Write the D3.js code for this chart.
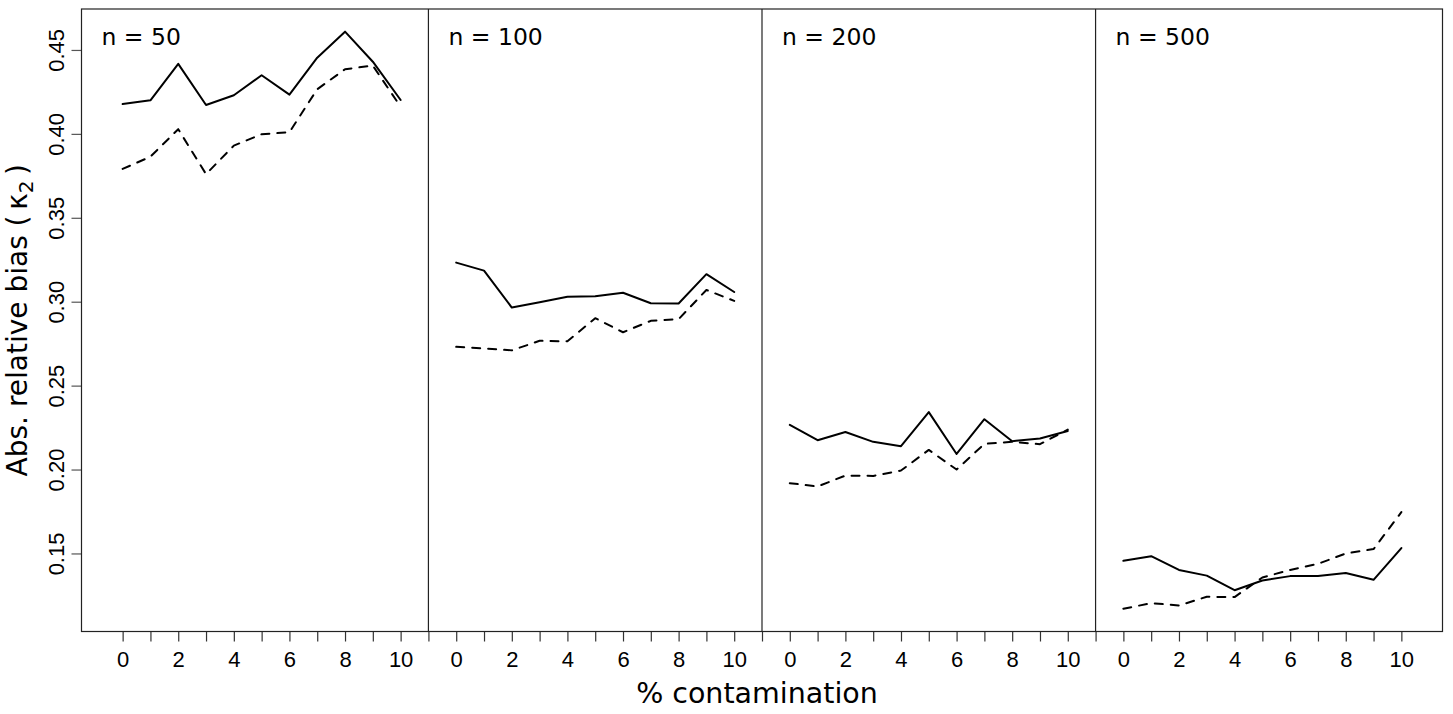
<!DOCTYPE html>
<html>
<head>
<meta charset="utf-8">
<script src="https://cdn.jsdelivr.net/npm/d3@7"></script>
<style>
  body { margin: 0; background: #fff; }
  svg { display: block; }
</style>
</head>
<body>
<div id="chart"></div>
<script>
(function () {

    // % contamination on each panel
    const contamination = [0, 1, 2, 3, 4, 5, 6, 7, 8, 9, 10];
    const panelLabels = ["n = 50", "n = 100", "n = 200", "n = 500"];
    const yTicks = [0.15, 0.20, 0.25, 0.30, 0.35, 0.40, 0.45];

    // solid line
    const solidN50  = [0.4178, 0.4200, 0.4417, 0.4172, 0.4230, 0.4349, 0.4234, 0.4454, 0.4609, 0.4430, 0.4202];
    const solidN100 = [0.3233, 0.3185, 0.2965, 0.2997, 0.3030, 0.3032, 0.3053, 0.2991, 0.2989, 0.3164, 0.3058];
    const solidN200 = [0.2266, 0.2175, 0.2224, 0.2165, 0.2139, 0.2342, 0.2093, 0.2300, 0.2169, 0.2185, 0.2230];
    const solidN500 = [0.1456, 0.1484, 0.1402, 0.1368, 0.1281, 0.1339, 0.1365, 0.1365, 0.1383, 0.1343, 0.1532];

    // dashed line
    const dashedN50  = [0.3791, 0.3864, 0.4028, 0.3760, 0.3930, 0.3998, 0.4010, 0.4266, 0.4385, 0.4407, 0.4162];
    const dashedN100 = [0.2731, 0.2722, 0.2710, 0.2767, 0.2764, 0.2902, 0.2818, 0.2886, 0.2896, 0.3070, 0.3005];
    const dashedN200 = [0.1919, 0.1899, 0.1964, 0.1962, 0.1994, 0.2117, 0.2000, 0.2153, 0.2165, 0.2151, 0.2238];
    const dashedN500 = [0.1170, 0.1204, 0.1190, 0.1242, 0.1240, 0.1357, 0.1402, 0.1438, 0.1500, 0.1526, 0.1746];

    const solidSeries = [solidN50, solidN100, solidN200, solidN500];
    const dashedSeries = [dashedN50, dashedN100, dashedN200, dashedN500];

    const width = 1453;
    const height = 714;
    const left = 81.5, right = 1442.5, top = 9, bottom = 631.5;
    const panelStep = 12; // each panel shifted 12 units along one shared x axis

    const svg = d3.select("#chart")
        .append("svg")
        .attr("width", width)
        .attr("height", height);

    const x = d3.scaleLinear()
        .domain([-1.48, 47.48])
        .range([left, right]);

    const y = d3.scaleLinear()
        .domain([0.1035, 0.4744])
        .range([bottom, top]);

    const line = d3.line()
        .x(d => x(d[0]))
        .y(d => y(d[1]));

    // x axis: one tick per unit, labels 0..10 repeated on each panel
    const xTickValues = d3.range(0, 3 * panelStep + contamination.length);
    const xAxis = d3.axisBottom(x)
        .tickValues(xTickValues)
        .tickSize(10)
        .tickPadding(10)
        .tickFormat(d => {
            const k = d % panelStep;
            return (k % 2 === 0 && k <= 10) ? k : "";
        });

    const gx = svg.append("g")
        .attr("transform", `translate(0,${bottom})`)
        .call(xAxis);
    gx.select(".domain").remove();
    gx.selectAll("line").attr("stroke", "#333").attr("stroke-width", 1.2);
    gx.selectAll("text")
        .attr("font-family", "Liberation Sans, Arial, sans-serif")
        .attr("font-size", 22)
        .attr("fill", "#000");

    const yAxis = d3.axisLeft(y)
        .tickValues(yTicks)
        .tickSize(10)
        .tickFormat(d3.format(".2f"));

    const gy = svg.append("g")
        .attr("transform", `translate(${left},0)`)
        .call(yAxis);
    gy.select(".domain").remove();
    gy.selectAll("line").attr("stroke", "#555").attr("stroke-width", 1.2);
    gy.selectAll("text")
        .attr("font-family", "Liberation Sans, Arial, sans-serif")
        .attr("font-size", 22)
        .attr("fill", "#000")
        .attr("transform", "rotate(-90)")
        .attr("x", 0)
        .attr("y", -18)
        .attr("dy", 0)
        .attr("text-anchor", "middle");

    // panel dividers
    svg.append("g")
        .selectAll("line")
        .data([1, 2, 3])
        .join("line")
        .attr("x1", d => x(d * panelStep - 1))
        .attr("x2", d => x(d * panelStep - 1))
        .attr("y1", top)
        .attr("y2", bottom)
        .attr("stroke", "#222")
        .attr("stroke-width", 1.2);

    // lines
    const panels = svg.append("g");

    panelLabels.forEach((label, i) => {
        const off = i * panelStep;

        panels.append("path")
            .datum(contamination.map((c, j) => [c + off, solidSeries[i][j]]))
            .attr("d", line)
            .attr("fill", "none")
            .attr("stroke", "#000")
            .attr("stroke-width", 2)
            .attr("stroke-linejoin", "round")
            .attr("stroke-linecap", "round");

        panels.append("path")
            .datum(contamination.map((c, j) => [c + off, dashedSeries[i][j]]))
            .attr("d", line)
            .attr("fill", "none")
            .attr("stroke", "#000")
            .attr("stroke-width", 2)
            .attr("stroke-dasharray", "8,8")
            .attr("stroke-linejoin", "round")
            .attr("stroke-linecap", "round");

        const panelLeft = i === 0 ? left : x(off - 1);
        panels.append("text")
            .attr("x", panelLeft + 20)
            .attr("y", 44.5)
            .attr("font-family", "DejaVu Sans, sans-serif")
            .attr("font-size", 23.5)
            .attr("fill", "#000")
            .text(label);
    });

    // box
    svg.append("rect")
        .attr("x", left)
        .attr("y", top)
        .attr("width", right - left)
        .attr("height", bottom - top)
        .attr("fill", "none")
        .attr("stroke", "#222")
        .attr("stroke-width", 1.2);

    // axis titles
    svg.append("text")
        .attr("x", 757)
        .attr("y", 703)
        .attr("text-anchor", "middle")
        .attr("font-family", "DejaVu Sans, sans-serif")
        .attr("font-size", 28.5)
        .attr("fill", "#000")
        .text("% contamination");

    const yTitle = svg.append("text")
        .attr("transform", `translate(27,${(top + bottom) / 2}) rotate(-90)`)
        .attr("text-anchor", "middle")
        .attr("font-family", "DejaVu Sans, sans-serif")
        .attr("font-size", 28)
        .attr("fill", "#000");
    yTitle.append("tspan").text("Abs. relative bias (\u2009κ");
    yTitle.append("tspan").attr("font-size", 20).attr("dy", 6).text("2");
    yTitle.append("tspan").attr("dy", -6).text("\u2009)");

})();
</script>
</body>
</html>
